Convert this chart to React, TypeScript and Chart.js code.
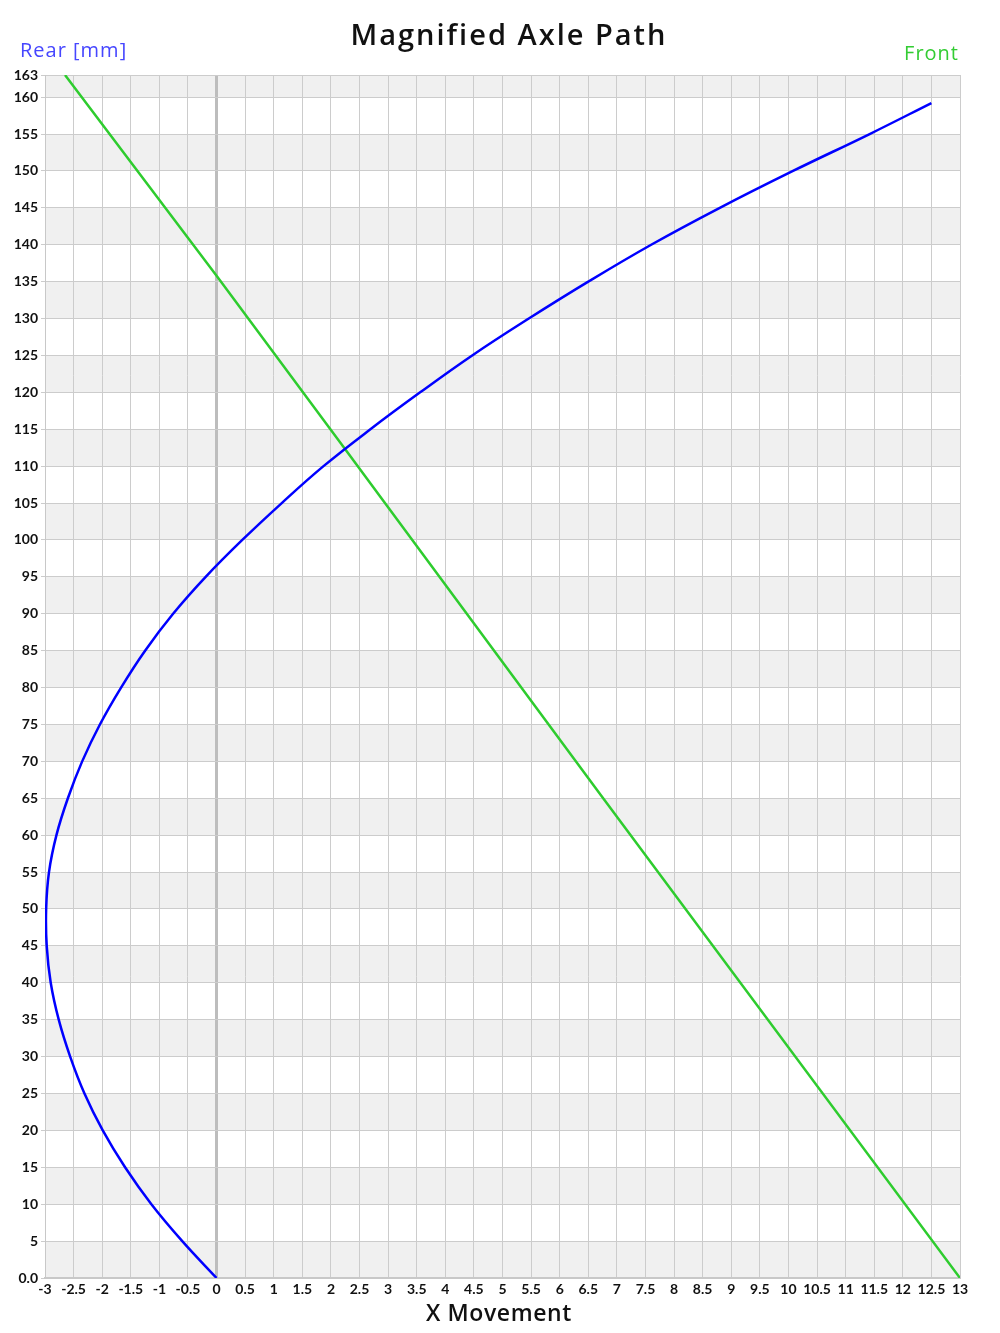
import React, { useEffect, useRef } from "react";
import { Chart, registerables } from "chart.js";

Chart.register(...registerables);

const chartTitle = "Magnified Axle Path";
const rearLabel = "Rear [mm]";
const frontLabel = "Front";
const xAxisTitle = "X Movement";

const rearX = [0, -0.6, -1.14, -1.6, -1.99, -2.31, -2.56, -2.76, -2.9, -2.97, -2.98, -2.93, -2.8, -2.6, -2.35, -2.04, -1.67, -1.25, -0.76, -0.19, 0.45, 1.14, 1.87, 2.69, 3.56, 4.47, 5.46, 6.5, 7.6, 8.8, 10.08, 11.42, 12.5];
const rearY = [0, 5, 10, 15, 20, 25, 30, 35, 40, 45, 50, 55, 60, 65, 70, 75, 80, 85, 90, 95, 100, 105, 110, 115, 120, 125, 130, 135, 140, 145, 150, 155, 159.2];

const frontX = [-2.65, 0, 2.24, 6.76, 13];
const frontY = [163, 135.8, 112.4, 65, 0];

const yTickValues = [0, 5, 10, 15, 20, 25, 30, 35, 40, 45, 50, 55, 60, 65, 70, 75, 80, 85, 90, 95, 100, 105, 110, 115, 120, 125, 130, 135, 140, 145, 150, 155, 160, 163];
const xMin = -3;
const xMax = 13;
const xStep = 0.5;

const TICK_FONT = "Lato, 'Open Sans', sans-serif";
const TEXT_FONT = "'Open Sans', Lato, sans-serif";

export default function App() {
  const ref = useRef<HTMLCanvasElement | null>(null);
  useEffect(() => {
    if (!ref.current) return;
    const bandPlugin = {
      id: "bands",
      beforeDraw(chart: any) {
        const { ctx, chartArea } = chart;
        const y = chart.scales.y;
        ctx.save();
        ctx.fillStyle = "#ffffff";
        ctx.fillRect(0, 0, chart.width, chart.height);
        ctx.fillStyle = "#f0f0f0";
        for (let i = 0; i < yTickValues.length - 1; i += 2) {
          const top = y.getPixelForValue(yTickValues[i + 1]);
          const bot = y.getPixelForValue(yTickValues[i]);
          ctx.fillRect(chartArea.left, top, chartArea.right - chartArea.left, bot - top);
        }
        ctx.restore();
      },
      afterDraw(chart: any) {
        const { ctx } = chart;
        ctx.save();
        ctx.textBaseline = "alphabetic";
        ctx.fillStyle = "#111";
        ctx.textAlign = "center";
        ctx.font = `600 29px ${TEXT_FONT}`;
        ctx.letterSpacing = "2px";
        ctx.fillText(chartTitle, 509, 45);
        ctx.textAlign = "left";
        ctx.fillStyle = "#4646ff";
        ctx.font = `500 20px ${TEXT_FONT}`;
        ctx.letterSpacing = "1px";
        ctx.fillText(rearLabel, 20, 57);
        ctx.textAlign = "right";
        ctx.fillStyle = "#33cc33";
        ctx.fillText(frontLabel, 959, 60);
        ctx.textAlign = "center";
        ctx.fillStyle = "#111";
        ctx.font = `600 23px ${TEXT_FONT}`;
        ctx.letterSpacing = "0.6px";
        ctx.fillText(xAxisTitle, 499, 1321);
        ctx.restore();
      },
    };

    const chart = new Chart(ref.current, {
      type: "scatter",
      data: {
        datasets: [
          {
            label: "Rear",
            data: rearX.map((x, i) => ({ x, y: rearY[i] })),
            showLine: true,
            borderColor: "#0000ff",
            backgroundColor: "#0000ff",
            borderWidth: 2.5,
            pointRadius: 0,
            tension: 0.4,
            capBezierPoints: false,
          },
          {
            label: "Front",
            data: frontX.map((x, i) => ({ x, y: frontY[i] })),
            showLine: true,
            borderColor: "#2ecc2e",
            backgroundColor: "#2ecc2e",
            borderWidth: 2.5,
            pointRadius: 0,
            tension: 0,
          },
        ],
      },
      options: {
        responsive: false,
        animation: false,
        elements: { line: { capBezierPoints: false } },
        layout: { padding: { left: 0, right: 40, top: 75, bottom: 0 } },
        plugins: {
          legend: { display: false },
          title: { display: false },
          tooltip: { enabled: false },
        },
        scales: {
          x: {
            type: "linear",
            min: xMin,
            max: xMax,
            ticks: {
              stepSize: xStep,
              autoSkip: false,
              maxRotation: 0,
              padding: 3,
              color: "#111",
              font: { family: TICK_FONT, size: 14, weight: "bold" },
              callback: (v: any) => String(v),
            },
            grid: {
              color: (c: any) => (c.tick && c.tick.value === 0 ? "#bdbdbd" : "#cccccc"),
              lineWidth: (c: any) => (c.tick && c.tick.value === 0 ? 3 : 1),
              drawTicks: false,
            },
            border: { color: "#c8c8c8", width: 2 },
            afterFit: (s: any) => {
              s.height = 55;
            },
          },
          y: {
            type: "linear",
            min: 0,
            max: 163,
            afterBuildTicks: (s: any) => {
              s.ticks = yTickValues.map((v) => ({ value: v }));
            },
            ticks: {
              autoSkip: false,
              padding: 3,
              color: "#111",
              font: { family: TICK_FONT, size: 14, weight: "bold" },
              callback: (v: any) => (v === 0 ? "0.0" : String(v)),
            },
            grid: { color: "#cccccc", lineWidth: 1, tickLength: 4 },
            border: { color: "#c8c8c8", width: 1 },
            afterFit: (s: any) => {
              s.width = 45;
            },
          },
        },
      },
      plugins: [bandPlugin],
    } as any);
    return () => chart.destroy();
  }, []);
  return (
    <div style={{ position: "absolute", left: 0, top: 0, width: 1000, height: 1333 }}>
      <canvas ref={ref} width={1000} height={1333} />
    </div>
  );
}
